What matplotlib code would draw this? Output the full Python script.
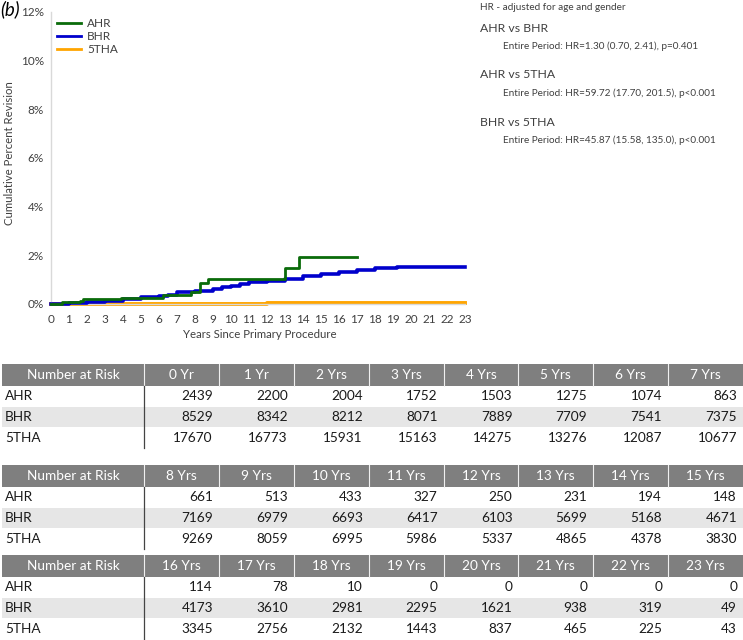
import numpy as np
import matplotlib
matplotlib.use("Agg")
import matplotlib.pyplot as plt
from matplotlib.patches import Rectangle

plt.rcParams['font.family'] = ['Lato', 'DejaVu Sans']

# Curve data (years, cumulative percent revision)
ahr_t = [0.0, 0.6, 1.6, 1.8, 3.9, 6.2, 7.8, 8.3, 8.7, 13.0, 13.8, 17.0]
ahr_y = [0.0, 0.07, 0.12, 0.19, 0.26, 0.35, 0.51, 0.85, 1.03, 1.47, 1.95, 1.95]

bhr_t = [0.0, 0.5, 1, 2, 3, 4, 5, 6, 6.5, 7, 8, 9, 9.5, 10, 10.5, 11, 12, 13, 14,
         15, 16, 17, 18, 19.2, 23]
bhr_y = [0.0, 0.02, 0.05, 0.08, 0.12, 0.19, 0.27, 0.31, 0.38, 0.48, 0.55, 0.61, 0.68,
         0.76, 0.83, 0.9, 0.95, 1.04, 1.15, 1.23, 1.32, 1.4, 1.46, 1.53, 1.53]

tha_t = [0.0, 12.0, 15.0, 23.0]
tha_y = [0.01, 0.03, 0.06, 0.06]

# Number at risk
groups = ["AHR", "BHR", "5THA"]
years = ["0 Yr", "1 Yr"] + [f"{i} Yrs" for i in range(2, 24)]
ahr_risk = [2439, 2200, 2004, 1752, 1503, 1275, 1074, 863,
            661, 513, 433, 327, 250, 231, 194, 148,
            114, 78, 10, 0, 0, 0, 0, 0]
bhr_risk = [8529, 8342, 8212, 8071, 7889, 7709, 7541, 7375,
            7169, 6979, 6693, 6417, 6103, 5699, 5168, 4671,
            4173, 3610, 2981, 2295, 1621, 938, 319, 49]
tha_risk = [17670, 16773, 15931, 15163, 14275, 13276, 12087, 10677,
            9269, 8059, 6995, 5986, 5337, 4865, 4378, 3830,
            3345, 2756, 2132, 1443, 837, 465, 225, 43]

hr_title = "HR - adjusted for age and gender"
comparisons = ["AHR vs BHR", "AHR vs 5THA", "BHR vs 5THA"]
hr_text = ["Entire Period: HR=1.30 (0.70, 2.41), p=0.401",
           "Entire Period: HR=59.72 (17.70, 201.5), p<0.001",
           "Entire Period: HR=45.87 (15.58, 135.0), p<0.001"]

W, H = 743, 640
grey = '#404040'
fig = plt.figure(figsize=(W / 100, H / 100), dpi=100)

# main plot
ax = fig.add_axes([51 / W, 1 - 304 / H, 414 / W, 292 / H])
ax.step(tha_t, tha_y, where='post', color='#ffa500', lw=2.8, clip_on=False, zorder=2)
ax.step(bhr_t, bhr_y, where='post', color='#0000cc', lw=2.6, clip_on=False, zorder=3)
ax.step(ahr_t, ahr_y, where='post', color='#0a6b0a', lw=2.0, clip_on=False, zorder=4)
ax.set_xlim(0, 23)
ax.set_ylim(0, 12)
ax.set_xticks(range(0, 24))
ax.set_yticks(range(0, 13, 2))
ax.set_yticklabels([f"{v}%" for v in range(0, 13, 2)])
ax.tick_params(length=0, labelsize=8.5, colors=grey)
ax.tick_params(axis='x', pad=7)
ax.tick_params(axis='y', pad=5)
for s in ['top', 'right']:
    ax.spines[s].set_visible(False)
for s in ['left', 'bottom']:
    ax.spines[s].set_color('#d9d9d9')
    ax.spines[s].set_linewidth(1.0)

handles = [plt.Line2D([], [], color='#0a6b0a', lw=2),
           plt.Line2D([], [], color='#0000cc', lw=2),
           plt.Line2D([], [], color='#ffa500', lw=2)]
ax.legend(handles, groups, loc='upper left', bbox_to_anchor=(0.0, 1.0), frameon=False,
          fontsize=8.5, handlelength=2.0, handletextpad=0.5, labelspacing=0.15,
          borderaxespad=0.15, labelcolor=grey)

fig.text(260 / W, 1 - 334 / H, "Years Since Primary Procedure", fontsize=8.2,
         color=grey, ha='center', va='center')
fig.text(10 / W, 1 - 153 / H, "Cumulative Percent Revision", rotation=90, fontsize=8.2,
         color=grey, ha='center', va='center')
fig.text(0 / W, 1 - 9 / H, "(b)", fontsize=13.5, style='italic', ha='left', va='center')

# HR annotations
fig.text(480 / W, 1 - 8 / H, hr_title, fontsize=7.2, color=grey, ha='left', va='center')
for i, (c, t) in enumerate(zip(comparisons, hr_text)):
    y0 = 28 + i * 47
    fig.text(480 / W, 1 - y0 / H, c, fontsize=8.8, color=grey, ha='left', va='center')
    fig.text(503 / W, 1 - (y0 + 18) / H, t, fontsize=7.2, color=grey, ha='left', va='center')

# tables
tab = fig.add_axes([0, 0, 1, 1])
tab.set_xlim(0, W)
tab.set_ylim(H, 0)
tab.set_axis_off()

risk = [ahr_risk, bhr_risk, tha_risk]
first_w = 144
col_w = (W - first_w) / 8
table_tops = [364, 465, 555]
head_h = 22
row_h = 20.7
fs = 9.8
for k, top in enumerate(table_tops):
    cols = years[k * 8:(k + 1) * 8]
    tab.add_patch(Rectangle((2, top), W - 2, head_h, color='#7f7f7f', lw=0))
    tab.text(first_w / 2 + 1, top + head_h / 2, "Number at Risk", color='white', fontsize=fs,
             ha='center', va='center')
    for j, c in enumerate(cols):
        x0 = first_w + j * col_w
        tab.plot([x0, x0], [top, top + head_h], color='#f0f0f0', lw=0.8)
        tab.text(x0 + col_w / 2, top + head_h / 2, c, color='white', fontsize=fs,
                 ha='center', va='center')
    for r, g in enumerate(groups):
        ry = top + head_h + r * row_h
        if r == 1:
            tab.add_patch(Rectangle((2, ry), W - 2, row_h, color='#e6e6e6', lw=0))
        tab.text(5, ry + row_h / 2, g, fontsize=fs, color='#1a1a1a', ha='left', va='center')
        for j in range(8):
            x1 = first_w + (j + 1) * col_w
            tab.text(x1 - 6, ry + row_h / 2, str(risk[r][k * 8 + j]), fontsize=fs,
                     color='#1a1a1a', ha='right', va='center')
    tab.plot([first_w, first_w], [top + head_h, top + head_h + 3 * row_h],
             color='#444444', lw=0.9)

fig.savefig("out.png", dpi=100)
